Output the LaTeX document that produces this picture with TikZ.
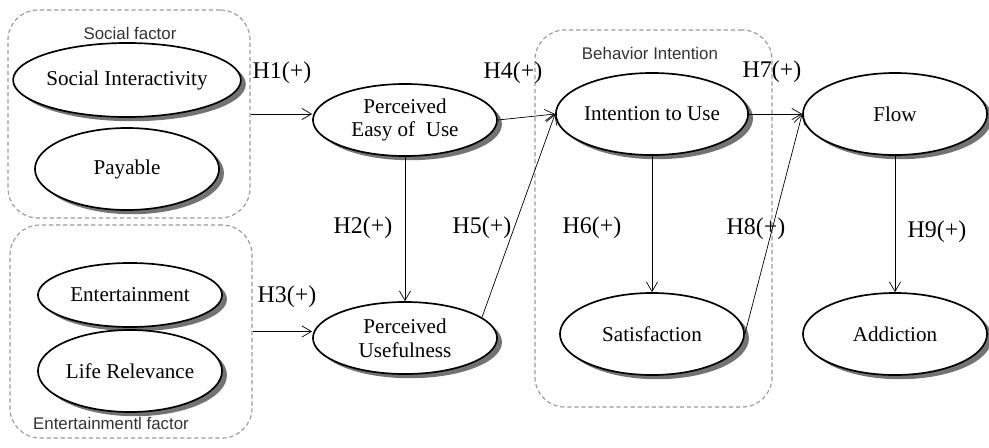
\documentclass[tikz,border=0pt]{standalone}
\usepackage{fontspec}
\setmainfont{Liberation Serif}
\setsansfont{Liberation Sans}
\usetikzlibrary{shapes.geometric,shadows,arrows.meta}

\tikzset{
	construct/.style={ellipse,draw,line width=1.2pt,fill=white,inner sep=0pt,
		minimum width=4.6cm,minimum height=2.05cm,align=center,
		font=\fontsize{15}{17}\selectfont,
		drop shadow={shadow xshift=3.5pt,shadow yshift=-3pt,fill=black!55,opacity=1}},
	groupbox/.style={draw=gray!80,dash pattern=on 3pt off 2pt,rounded corners=0.75cm,line width=0.8pt},
	grouplabel/.style={font=\sffamily\fontsize{12}{14}\selectfont,text=black!80},
	hyp/.style={font=\fontsize{17}{19}\selectfont},
	path/.style={->,>={Straight Barb[length=2.4mm,width=2.8mm]},line width=0.5pt}
}

\begin{document}
\begin{tikzpicture}[x=0.025cm,y=-0.025cm]
	\useasboundingbox (0,0) rectangle (989,448);
	%GROUPS
	\node[groupbox,minimum width=6.05cm,minimum height=5.2cm] (socialbox) at (129,114) {};
	\node[groupbox,minimum width=6.05cm,minimum height=5.325cm] (entbox) at (131,331.5) {};
	\node[groupbox,minimum width=5.925cm,minimum height=9.425cm] (behbox) at (653.5,218.5) {};
	\node[grouplabel] (sociallabel) at (130,33) {Social factor};
	\node[grouplabel] (entlabel) at (111,423) {Entertainmentl factor};
	\node[grouplabel] (behlabel) at (650,53) {Behavior Intention};
	%CONSTRUCTS
	\node[construct,minimum height=1.85cm] (si) at (127,80) {Social Interactivity};
	\node[construct] (pay) at (127,169) {Payable};
	\node[construct,minimum height=1.6cm] (ent) at (130,295) {Entertainment};
	\node[construct] (life) at (130,371) {Life Relevance};
	\node[construct,minimum height=1.8cm] (peu) at (405,120) {Perceived\\Easy of~ Use};
	\node[construct,minimum height=1.8cm] (pu) at (405,338) {Perceived\\Usefulness};
	\node[construct] (itu) at (652,114) {Intention to Use};
	\node[construct] (sat) at (652,334) {Satisfaction};
	\node[construct] (flow) at (895,114) {Flow};
	\node[construct] (add) at (895,334) {Addiction};
	%PATHS
	\draw[path] (socialbox.east) -- (socialbox.east -| peu.west);
	\draw[path] (entbox.east) -- (entbox.east -| pu.west);
	\draw[path] (peu.south) -- (pu.north);
	\draw[path] (peu.east) -- (itu.west);
	\draw[path] (pu.15) -- (itu.west);
	\draw[path] (itu.south) -- (sat.north);
	\draw[path] (itu.east) -- (flow.west);
	\draw[path] (sat.east) -- (flow.west);
	\draw[path] (flow.south) -- (add.north);
	%LABELS
	\node[hyp] (h1) at (282,73) {H1(+)};
	\node[hyp] (h2) at (363,228) {H2(+)};
	\node[hyp] (h3) at (287,297) {H3(+)};
	\node[hyp] (h4) at (513,73) {H4(+)};
	\node[hyp] (h5) at (482,228) {H5(+)};
	\node[hyp] (h6) at (592,228) {H6(+)};
	\node[hyp] (h7) at (772,72) {H7(+)};
	\node[hyp] (h8) at (756,229) {H8(+)};
	\node[hyp] (h9) at (937,232) {H9(+)};
\end{tikzpicture}
\end{document}
